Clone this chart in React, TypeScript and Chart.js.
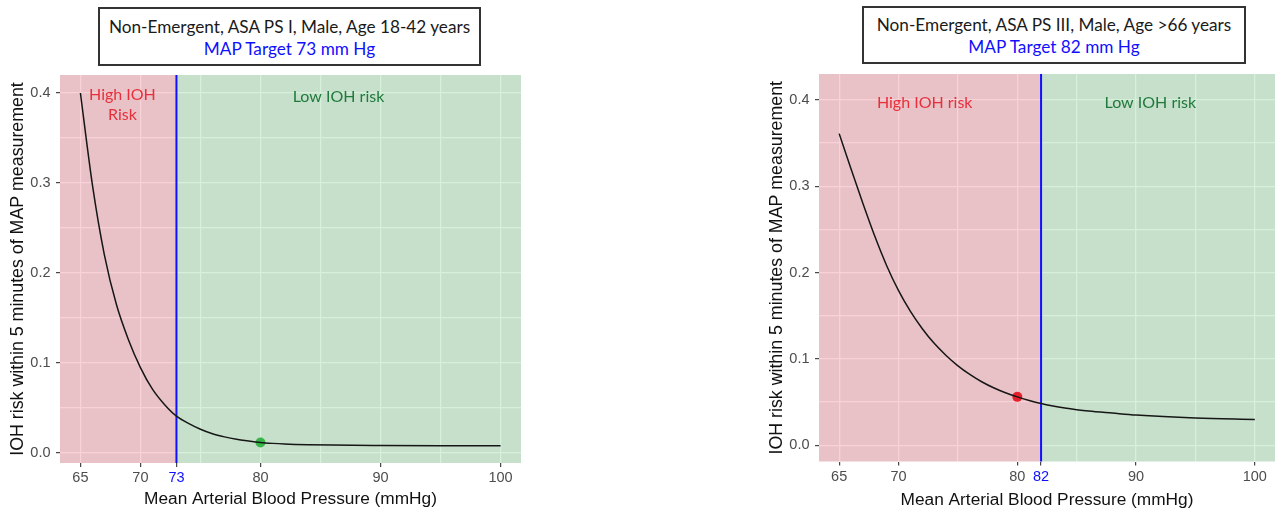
import React, { useEffect, useRef } from "react";
import { Chart, registerables } from "chart.js";

Chart.register(...registerables);

// ---------- data ----------
const leftMap = [65, 66, 67, 68, 69, 70, 71, 72, 73, 74, 75, 76, 77, 78, 79, 80, 81, 82, 84, 86, 90, 95, 100];
const leftRisk = [0.4, 0.298, 0.22, 0.165, 0.126, 0.095, 0.071, 0.054, 0.041, 0.033, 0.0265, 0.0215, 0.018, 0.0153, 0.0134, 0.0118, 0.0108, 0.0101, 0.0093, 0.0089, 0.0085, 0.0082, 0.0081];
const leftTarget = 73;
const leftDot = { x: 80, y: 0.0118 };
const leftGridX = [65, 70, 73, 75, 80, 85, 90, 95, 100];
const leftLabelX = [65, 70, 73, 80, 90, 100];

const rightMap = [65, 66, 67, 68, 69, 70, 71, 72, 73, 74, 75, 76, 77, 78, 79, 80, 81, 82, 83, 84, 85, 86, 88, 90, 95, 100];
const rightRisk = [0.361, 0.32, 0.28, 0.242, 0.208, 0.179, 0.155, 0.135, 0.118, 0.104, 0.092, 0.082, 0.0735, 0.0665, 0.0607, 0.056, 0.0518, 0.0482, 0.0454, 0.0431, 0.0412, 0.0396, 0.0372, 0.0349, 0.0315, 0.0298];
const rightTarget = 82;
const rightDot = { x: 80, y: 0.056 };
const rightGridX = [65, 70, 75, 80, 82, 85, 90, 95, 100];
const rightLabelX = [65, 70, 80, 82, 90, 100];

const yGrid = [0, 0.05, 0.1, 0.15, 0.2, 0.25, 0.3, 0.35, 0.4];

const leftTitle = ["Non-Emergent, ASA PS I, Male, Age 18-42 years", "MAP Target 73 mm Hg"];
const rightTitle = ["Non-Emergent, ASA PS III, Male, Age >66 years", "MAP Target 82 mm Hg"];

const xTitle = "Mean Arterial Blood Pressure (mmHg)";
const yTitle = "IOH risk within 5 minutes of MAP measurement";

// ---------- styling ----------
const PANEL_BG = "#ebebeb";
const HIGH_FILL = "rgba(220, 30, 50, 0.2)";
const LOW_FILL = "rgba(55, 180, 75, 0.2)";
const HIGH_TEXT = "#e8303c";
const LOW_TEXT = "#1f7a3c";
const BLUE = "#1010ff";
const TICK_GREY = "#4d4d4d";
const SANS = "'Liberation Sans', Arial, sans-serif";
const ANN_FONT = "Lato, 'Open Sans', sans-serif";

type Ann = { lines: string[]; x: number; y: number; color: string };

type PanelCfg = {
  left: number;
  width: number;
  areaTop: number;
  areaBottom: number;
  padRight: number;
  xs: number[];
  ys: number[];
  target: number;
  dot: { x: number; y: number };
  dotColor: string;
  gridX: number[];
  labelX: number[];
  yMin: number;
  yMax: number;
  xTitlePad: number;
  xTickPad: number;
  anns: Ann[];
};

const HEIGHT = 513;

const isMajorY = (v: number) => Math.abs(Math.round(v * 10) - v * 10) < 1e-6;

function Panel({ cfg }: { cfg: PanelCfg }) {
  const ref = useRef<HTMLCanvasElement | null>(null);

  useEffect(() => {
    if (!ref.current) return;
    const c = cfg;
    const bgPlugin = {
      id: "panelDecor",
      beforeDraw(chart: any) {
        const { ctx, chartArea: a } = chart;
        ctx.save();
        ctx.fillStyle = PANEL_BG;
        ctx.fillRect(a.left, a.top, a.right - a.left, a.bottom - a.top);
        ctx.restore();
      },
      beforeDatasetsDraw(chart: any) {
        const { ctx, chartArea: a } = chart;
        const xs = chart.scales.x;
        const tx = xs.getPixelForValue(c.target);
        ctx.save();
        ctx.fillStyle = HIGH_FILL;
        ctx.fillRect(a.left, a.top, tx - a.left, a.bottom - a.top);
        ctx.fillStyle = LOW_FILL;
        ctx.fillRect(tx, a.top, a.right - tx, a.bottom - a.top);
        ctx.strokeStyle = BLUE;
        ctx.lineWidth = 2;
        ctx.beginPath();
        ctx.moveTo(tx, a.top);
        ctx.lineTo(tx, a.bottom);
        ctx.stroke();
        ctx.restore();
      },
      afterDatasetsDraw(chart: any) {
        const { ctx } = chart;
        const xs = chart.scales.x;
        const ys = chart.scales.y;
        ctx.save();
        ctx.font = `16px ${ANN_FONT}`;
        ctx.textAlign = "center";
        ctx.textBaseline = "middle";
        c.anns.forEach((an) => {
          ctx.fillStyle = an.color;
          const px = xs.getPixelForValue(an.x);
          const py = ys.getPixelForValue(an.y);
          an.lines.forEach((ln, i) => ctx.fillText(ln, px, py + i * 20));
        });
        ctx.restore();
      },
    };

    const chart = new Chart(ref.current, {
      type: "line",
      data: {
        datasets: [
          {
            data: c.xs.map((x, i) => ({ x, y: c.ys[i] })),
            borderColor: "#161616",
            borderWidth: 1.5,
            pointRadius: 0,
            cubicInterpolationMode: "monotone",
            fill: false,
          },
          {
            data: [{ x: c.dot.x, y: c.dot.y }],
            showLine: false,
            pointRadius: 5,
            pointBackgroundColor: c.dotColor,
            pointBorderColor: c.dotColor,
            pointBorderWidth: 0,
          },
        ],
      },
      options: {
        animation: false,
        responsive: false,
        events: [],
        layout: { padding: { top: c.areaTop, right: c.padRight, bottom: 0, left: 0 } },
        plugins: { legend: { display: false }, tooltip: { enabled: false } },
        scales: {
          x: {
            type: "linear",
            min: 63.3,
            max: 101.7,
            afterBuildTicks: (s: any) => {
              s.ticks = c.gridX.map((v) => ({ value: v }));
            },
            afterFit: (s: any) => {
              s.height = HEIGHT - c.areaBottom;
            },
            border: { display: false },
            grid: {
              color: (ctx: any) => (ctx.tick && ctx.tick.value === c.target ? "rgba(0,0,0,0)" : "#ffffff"),
              lineWidth: 1.3,
              tickLength: 4,
              tickWidth: 1.1,
              tickColor: (ctx: any) => (ctx.tick && c.labelX.includes(ctx.tick.value) ? "#333333" : "rgba(0,0,0,0)"),
            },
            ticks: {
              autoSkip: false,
              maxRotation: 0,
              padding: c.xTickPad,
              font: { family: SANS, size: 14.5 },
              color: (ctx: any) => (ctx.tick && ctx.tick.value === c.target ? BLUE : TICK_GREY),
              callback: (v: any) => (c.labelX.includes(Number(v)) ? String(v) : ""),
            },
            title: {
              display: true,
              text: xTitle,
              color: "#111111",
              font: { family: SANS, size: 17.3 },
              padding: { top: 0, bottom: c.xTitlePad },
            },
          },
          y: {
            type: "linear",
            min: c.yMin,
            max: c.yMax,
            afterBuildTicks: (s: any) => {
              s.ticks = yGrid.map((v) => ({ value: v }));
            },
            afterFit: (s: any) => {
              s.width = 60;
            },
            border: { display: false },
            grid: {
              color: "#ffffff",
              lineWidth: 1.3,
              tickLength: 4,
              tickWidth: 1.1,
              tickColor: (ctx: any) => (ctx.tick && isMajorY(ctx.tick.value) ? "#333333" : "rgba(0,0,0,0)"),
            },
            ticks: {
              autoSkip: false,
              padding: 5.5,
              font: { family: SANS, size: 14.5 },
              color: TICK_GREY,
              callback: (v: any) => (isMajorY(Number(v)) ? Number(v).toFixed(1) : ""),
            },
            title: {
              display: true,
              text: yTitle,
              color: "#111111",
              font: { family: SANS, size: 17.8 },
              padding: { top: 7, bottom: 0 },
            },
          },
        },
      },
      plugins: [bgPlugin],
    } as any);
    return () => chart.destroy();
  }, [cfg]);

  return (
    <canvas
      ref={ref}
      width={cfg.width}
      height={HEIGHT}
      style={{ position: "absolute", left: cfg.left, top: 0, width: cfg.width, height: HEIGHT }}
    />
  );
}

function TitleBox({ lines, left, top, width, height }: { lines: string[]; left: number; top: number; width: number; height: number }) {
  return (
    <div
      style={{
        position: "absolute",
        left,
        top,
        width,
        height,
        boxSizing: "border-box",
        border: "2px solid #333333",
        background: "#ffffff",
        display: "flex",
        flexDirection: "column",
        alignItems: "center",
        justifyContent: "center",
        paddingTop: 2,
        fontFamily: ANN_FONT,
        fontSize: 17.2,
        lineHeight: "22px",
        zIndex: 2,
      }}
    >
      <div style={{ color: "#1a1a1a" }}>{lines[0]}</div>
      <div style={{ color: BLUE }}>{lines[1]}</div>
    </div>
  );
}

const leftCfg: PanelCfg = {
  left: 0,
  width: 540,
  areaTop: 75,
  areaBottom: 463,
  padRight: 19,
  xs: leftMap,
  ys: leftRisk,
  target: leftTarget,
  dot: leftDot,
  dotColor: "#38b44a",
  gridX: leftGridX,
  labelX: leftLabelX,
  yMin: -0.011,
  yMax: 0.42,
  xTitlePad: 3,
  xTickPad: 2,
  anns: [
    { lines: ["High IOH", "Risk"], x: 68.5, y: 0.398, color: HIGH_TEXT },
    { lines: ["Low IOH risk"], x: 86.5, y: 0.396, color: LOW_TEXT },
  ],
};

const rightCfg: PanelCfg = {
  left: 759,
  width: 521,
  areaTop: 74,
  areaBottom: 461.5,
  padRight: 1,
  xs: rightMap,
  ys: rightRisk,
  target: rightTarget,
  dot: rightDot,
  dotColor: "#e8202e",
  gridX: rightGridX,
  labelX: rightLabelX,
  yMin: -0.0189,
  yMax: 0.4301,
  xTitlePad: 2,
  xTickPad: 2.5,
  anns: [
    { lines: ["High IOH risk"], x: 72.2, y: 0.397, color: HIGH_TEXT },
    { lines: ["Low IOH risk"], x: 91.2, y: 0.397, color: LOW_TEXT },
  ],
};

export default function App() {
  return (
    <div style={{ position: "absolute", left: 0, top: 0, width: 1280, height: HEIGHT, background: "#ffffff", overflow: "hidden" }}>
      <Panel cfg={leftCfg} />
      <Panel cfg={rightCfg} />
      <TitleBox lines={leftTitle} left={98} top={7} width={383} height={59} />
      <TitleBox lines={rightTitle} left={862} top={6} width={384} height={58} />
    </div>
  );
}
